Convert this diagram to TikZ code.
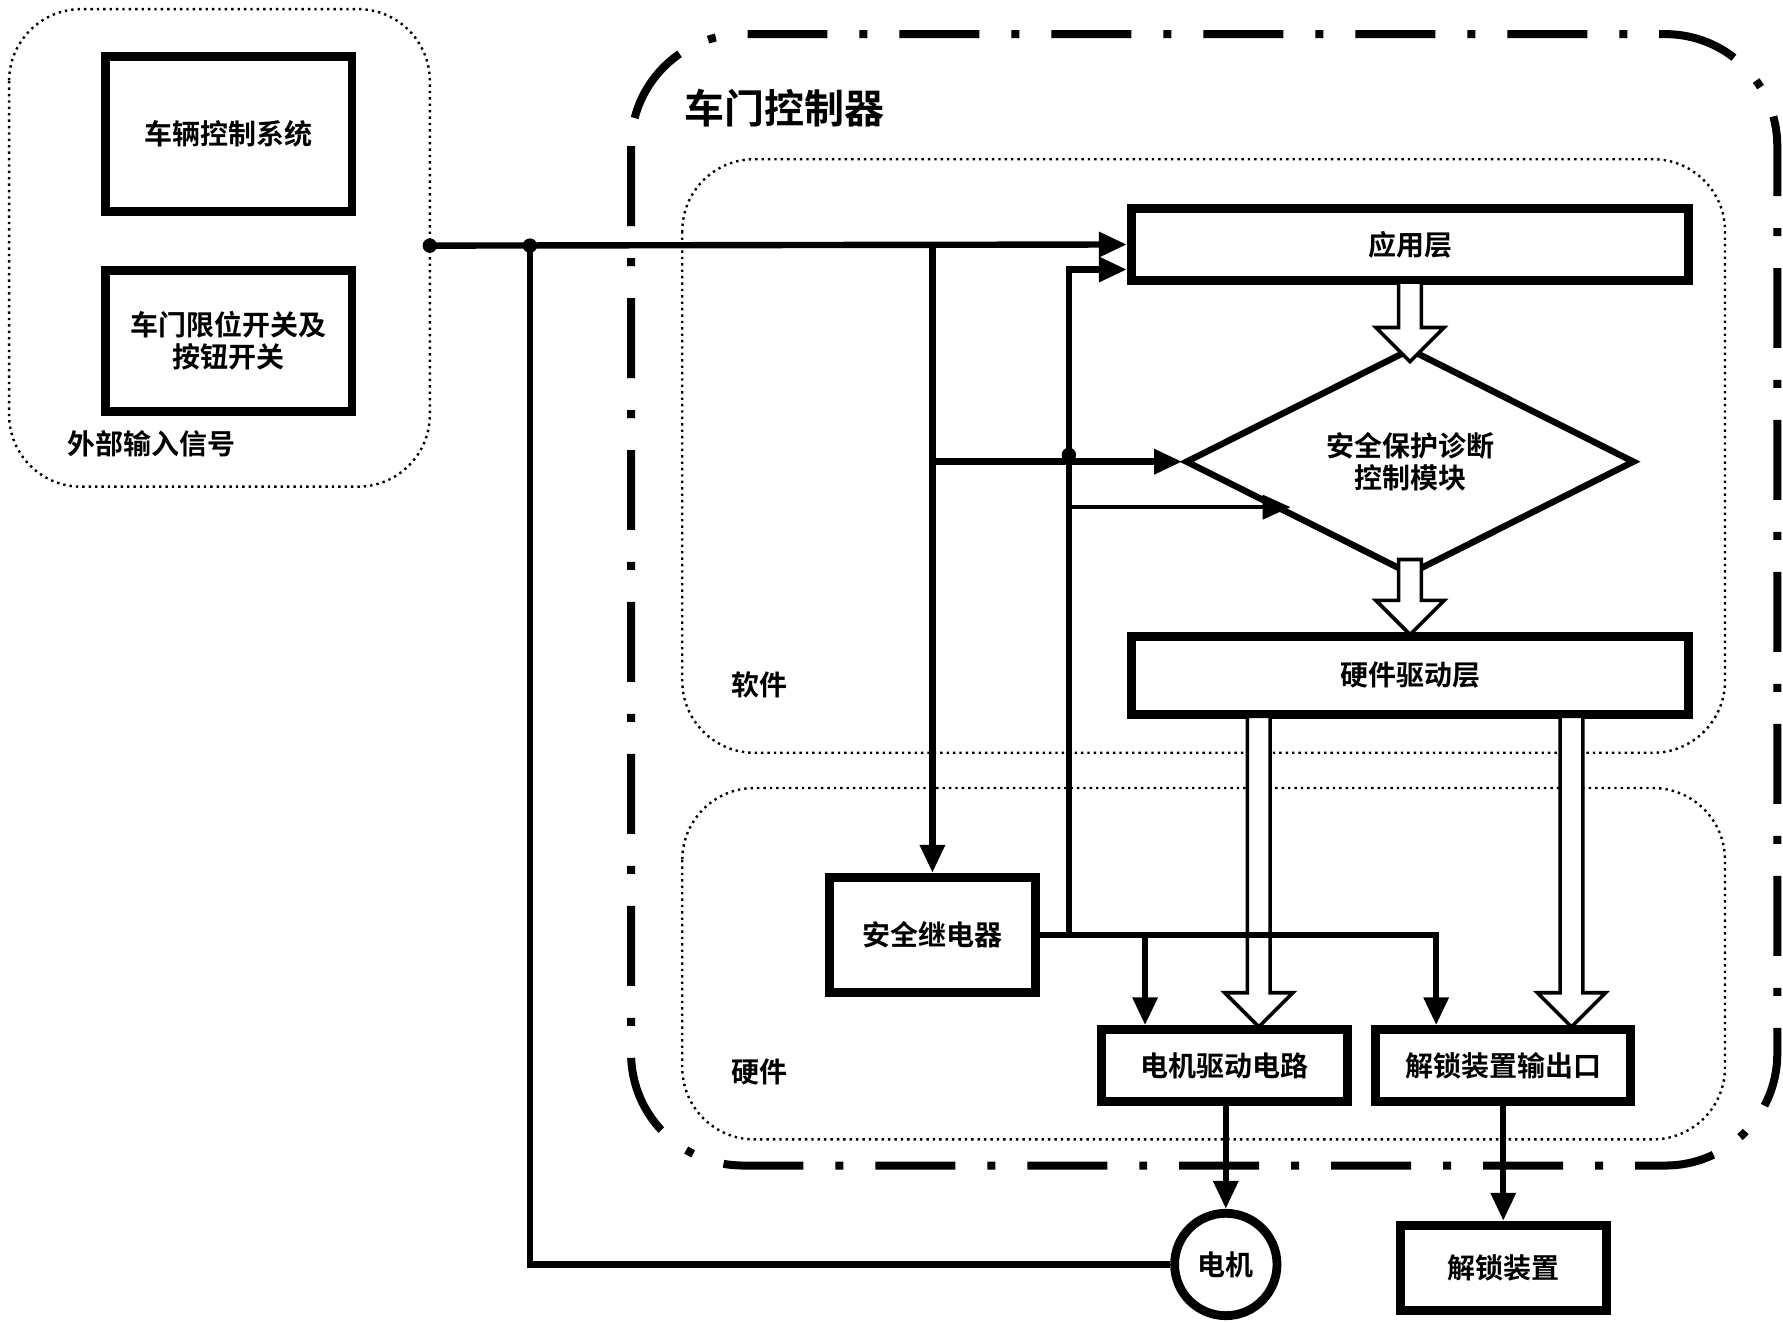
\documentclass[tikz,border=0pt]{standalone}
\usepackage{fontspec}
\setmainfont{Noto Sans CJK SC}[BoldFont={Noto Sans CJK SC Bold}]
\usetikzlibrary{shapes.geometric, positioning, arrows.meta}

\tikzset{
	blk/.style = {draw, line width=2.2pt, font=\bfseries\fontsize{7}{8}\selectfont, inner sep=0pt},
	wire/.style = {line width=1.6pt},
	arr/.style = {wire, -{Triangle[length=7pt,width=6pt]}},
	grp/.style = {draw, densely dotted, rounded corners=18pt, line width=0.6pt}
}
\newcommand{\hollow}[3]{%
	\draw[line width=0.9pt, fill=white] (#1-10,#2) -- (#1+10,#2) -- (#1+10,#3-30) -- (#1+30,#3-30)
	-- (#1,#3) -- (#1-30,#3-30) -- (#1-10,#3-30) -- cycle;}

\begin{document}
\begin{tikzpicture}[x=0.01cm, y=-0.01cm]
		\useasboundingbox (0,0) rectangle (1568,1163);

		% groups
		\draw[grp] (8,8) rectangle (378,428);
		\draw[line width=2pt, dash pattern=on 20pt off 8pt on 2pt off 8pt, rounded corners=28pt] (555,30) rectangle (1563,1025);
		\draw[grp] (600,140) rectangle (1517,662);
		\draw[grp] (600,693) rectangle (1517,1002);
		\node [font=\bfseries\fontsize{10}{12}\selectfont] (ctl) at (690,95) {车门控制器};
		\node [font=\bfseries\fontsize{7}{8}\selectfont] (sw) at (668,602) {软件};
		\node [font=\bfseries\fontsize{7}{8}\selectfont] (hw) at (668,943) {硬件};
		\node [font=\bfseries\fontsize{7}{8}\selectfont] (ext) at (133,390) {外部输入信号};

		% blocks
		\node [blk, minimum width=2.17cm, minimum height=1.36cm] (vcs) at (201,118) {车辆控制系统};
		\node [blk, minimum width=2.17cm, minimum height=1.24cm, align=center] (lim) at (201,300) {车门限位开关及\\按钮开关};
		\node [blk, minimum width=4.9cm, minimum height=0.63cm] (app) at (1240,215) {应用层};
		\node [blk, draw, diamond, line width=1.6pt, minimum width=3.95cm, minimum height=1.7cm, align=center] (safe) at (1240,406) {安全保护诊断\\控制模块};
		\node [blk, minimum width=4.9cm, minimum height=0.68cm] (drv) at (1240,594) {硬件驱动层};
		\node [blk, minimum width=1.81cm, minimum height=1.01cm] (relay) at (820,822) {安全继电器};
		\node [blk, minimum width=2.16cm, minimum height=0.63cm] (mdc) at (1077,937) {电机驱动电路};
		\node [blk, minimum width=2.24cm, minimum height=0.63cm] (ulo) at (1322,937) {解锁装置输出口};
		\node [blk, circle, minimum size=0.9cm] (motor) at (1078,1112) {电机};
		\node [blk, minimum width=1.81cm, minimum height=0.75cm] (unl) at (1322,1115) {解锁装置};

		% hollow arrows
		\hollow{1240}{248}{318}
		\hollow{1240}{492}{558}
		\hollow{1107}{630}{903}
		\hollow{1382}{630}{903}

		% signals
		\coordinate (in) at (378,216);
		\coordinate (fb) at (466,216);
		\fill (in) circle (1.8pt) (fb) circle (1.8pt) (940,400) circle (1.8pt);
		\draw[arr] (in) -- (app.west);
		\draw[arr] (820,216) -- (relay.north);
		\draw[arr] (820,406) -- (safe.west);
		\draw[arr] (relay.east) -- (940,822) -- (940,237) -- (app.west |- 0,237);
		\draw[arr, line width=1pt] (940,446) -- (1135,446);
		\draw[arr] (relay.east) -- (1263,822) -- (ulo.north -| 1263,0);
		\draw[arr] (1007,822) -- (mdc.north -| 1007,0);
		\draw[arr] (mdc.south -| motor) -- (motor.north);
		\draw[arr] (ulo.south) -- (unl.north);
		\draw[wire] (motor.west) -- (466,1112) -- (fb);
	\end{tikzpicture}
\end{document}
